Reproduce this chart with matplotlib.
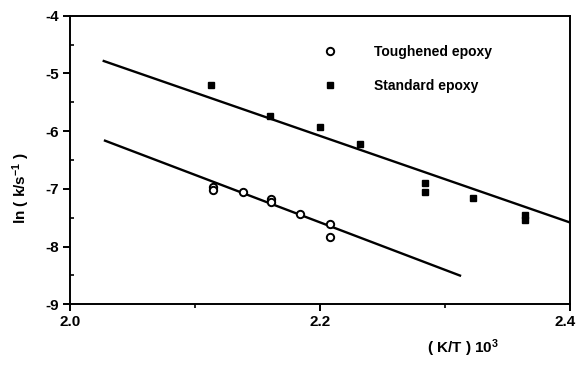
import matplotlib
matplotlib.use("Agg")
import matplotlib.pyplot as plt
from matplotlib.transforms import ScaledTranslation
import numpy as np

plt.rcParams['font.family'] = ['Liberation Sans', 'DejaVu Sans']
plt.rcParams['font.weight'] = 'bold'
plt.rcParams['mathtext.default'] = 'regular'
plt.rcParams['axes.unicode_minus'] = False

# toughened epoxy (open circles)
tough_x = [2.114, 2.114, 2.138, 2.161, 2.161, 2.184, 2.208, 2.208]
tough_y = [-6.96, -7.02, -7.06, -7.18, -7.22, -7.43, -7.61, -7.83]

# standard epoxy (filled squares)
std_x = [2.113, 2.160, 2.200, 2.232, 2.284, 2.284, 2.322, 2.364, 2.364]
std_y = [-5.20, -5.74, -5.93, -6.22, -6.90, -7.05, -7.16, -7.45, -7.54]

# fitted lines: (x start, x end, slope, y at x start)
tough_fit = (2.028, 2.312, -8.23, -6.165)
std_fit = (2.027, 2.400, -7.50, -4.785)

xticks = [2.0, 2.2, 2.4]
xtick_labels = ['2.0', '2.2', '2.4']
yticks = [-9, -8, -7, -6, -5, -4]


def fit_line(fit):
    x0, x1, m, y0 = fit
    xs = np.array([x0, x1])
    return xs, y0 + m * (xs - x0)


fig = plt.figure(figsize=(5.77, 3.67), dpi=100)
ax = fig.add_axes([70/577, 1-304.3/367, 500/577, 288.6/367])

for fit in (std_fit, tough_fit):
    lx, ly = fit_line(fit)
    ax.plot(lx, ly, color='black', lw=1.7)

ax.plot(tough_x, tough_y, 'o', mfc='white', mec='black', mew=1.4, ms=5.3,
        ls='none', label='Toughened epoxy')
ax.plot(std_x, std_y, 's', mfc='black', mec='black', ms=4.5,
        ls='none', label='Standard epoxy')

ax.set_xlim(2.0, 2.4)
ax.set_ylim(-9, -4)
ax.set_xticks(xticks)
ax.set_xticklabels(xtick_labels)
ax.set_xticks([2.1, 2.3], minor=True)
ax.set_yticks(yticks)
ax.set_yticks(np.arange(-8.5, -4, 1.0), minor=True)
ax.tick_params(which='major', direction='out', length=5, width=1.4,
               labelsize=11, pad=3)
ax.tick_params(axis='y', which='minor', direction='in', length=3, width=1.2)
ax.tick_params(axis='x', which='minor', direction='out', length=3, width=1.2)
for sp in ax.spines.values():
    sp.set_linewidth(1.4)

for lab in ax.get_xticklabels() + ax.get_yticklabels():
    lab.set_fontweight('bold')
# last x label sits against the right edge of the picture
last = ax.get_xticklabels()[-1]
last.set_transform(last.get_transform() + ScaledTranslation(-5/100, 0, fig.dpi_scale_trans))

leg = ax.legend(loc='upper left', bbox_to_anchor=(0.507, 0.898), frameon=False,
                numpoints=1, handlelength=1.0, handletextpad=2.6,
                labelspacing=1.45, borderpad=0, borderaxespad=0,
                prop={'size': 10, 'weight': 'bold'})

fig.text(21/577, 1-188/367, 'ln ( k/s$^{-1}$ )', rotation=90, ha='center',
         va='center', fontsize=11, fontweight='bold')
fig.text(463/577, 1-348/367, '( K/T ) 10$^{3}$', ha='center', va='center',
         fontsize=11, fontweight='bold')

fig.savefig('out.png', dpi=100)
